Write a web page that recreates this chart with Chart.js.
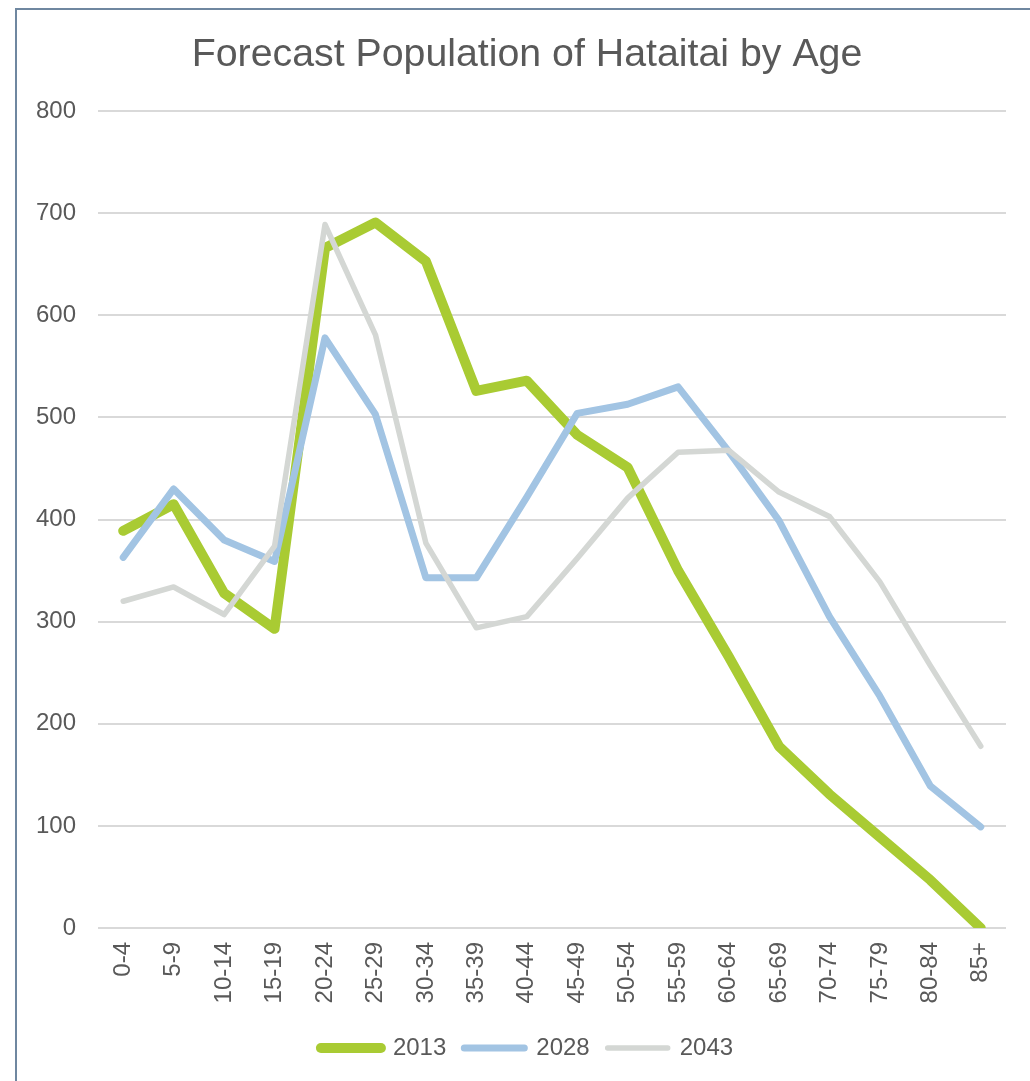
<!DOCTYPE html>
<html>
<head>
<meta charset="utf-8">
<script src="https://cdn.jsdelivr.net/npm/chart.js@4"></script>
<style>
  html, body { margin: 0; padding: 0; background: #fff; overflow: hidden; }
  #frame {
    position: absolute; left: 15px; top: 8px; width: 1100px; height: 1200px;
    border-left: 2px solid #6f87a0; border-top: 2px solid #6f87a0;
  }
  #chart { position: absolute; left: 0; top: 0; }
</style>
</head>
<body>
<div id="frame"></div>
<canvas id="chart" width="1030" height="1081"></canvas>
<script>
// age groups on the x axis
const ageGroups = ['0-4', '5-9', '10-14', '15-19', '20-24', '25-29', '30-34', '35-39', '40-44',
                   '45-49', '50-54', '55-59', '60-64', '65-69', '70-74', '75-79', '80-84', '85+'];

// population values
const pop2013 = [389, 415, 328, 293, 666, 691, 653, 526, 536, 483, 451, 350, 266, 178, 131, 89, 47, 0];
const pop2028 = [363, 430, 380, 359, 578, 503, 343, 343, 422, 504, 513, 530, 467, 399, 305, 227, 139, 99];
const pop2043 = [320, 334, 307, 374, 689, 581, 377, 294, 305, 362, 421, 466, 468, 427, 403, 339, 257, 178];

const yTicks = [0, 100, 200, 300, 400, 500, 600, 700, 800];

const textColor = '#595959';
const fontFamily = '"Liberation Sans", Arial, sans-serif';

const ctx = document.getElementById('chart');

new Chart(ctx, {
    type: 'line',
    data: {
        labels: ageGroups,
        datasets: [{
            label: '2013',
            data: pop2013,
            borderColor: '#a9cb33',
            backgroundColor: '#a9cb33',
            borderWidth: 10,
            order: 2
        }, {
            label: '2028',
            data: pop2028,
            borderColor: '#a2c4e3',
            backgroundColor: '#a2c4e3',
            borderWidth: 7,
            order: 1
        }, {
            label: '2043',
            data: pop2043,
            borderColor: '#d4d7d4',
            backgroundColor: '#d4d7d4',
            borderWidth: 5.5,
            order: 0
        }]
    },
    options: {
        responsive: false,
        animation: false,
        devicePixelRatio: 1,
        elements: {
            point: { radius: 0, hoverRadius: 0 },
            line: { tension: 0, borderCapStyle: 'round', borderJoinStyle: 'round', fill: false }
        },
        layout: {
            padding: { top: 0, left: 35, right: 11, bottom: 11 }
        },
        scales: {
            x: {
                offset: true,
                grid: { display: false, drawTicks: false },
                border: { display: false },
                ticks: {
                    color: textColor,
                    font: { family: fontFamily, size: 24 },
                    minRotation: 90,
                    maxRotation: 90,
                    padding: 14,
                    autoSkip: false
                },
                afterFit: (scale) => { scale.height = 90; }
            },
            y: {
                min: 0,
                max: 800,
                afterBuildTicks: (scale) => { scale.ticks = yTicks.map(v => ({ value: v })); },
                afterFit: (scale) => { scale.width = 63; },
                grid: { color: '#d9d9d9', lineWidth: 2, drawTicks: false },
                border: { display: false },
                ticks: {
                    color: textColor,
                    font: { family: fontFamily, size: 24 },
                    padding: 22
                }
            },
            // empty right-hand gutter so the title sits where it does in the original
            gutter: {
                type: 'linear',
                position: 'right',
                grid: { display: false, drawTicks: false },
                border: { display: false },
                ticks: { display: false },
                afterFit: (scale) => { scale.width = 13; }
            }
        },
        plugins: {
            title: {
                display: true,
                text: 'Forecast Population of Hataitai by Age',
                color: textColor,
                font: { family: fontFamily, size: 39.3, weight: 'normal' },
                padding: { top: 32, bottom: 32 }
            },
            legend: {
                position: 'bottom',
                labels: {
                    color: textColor,
                    font: { family: fontFamily, size: 24 },
                    usePointStyle: true,
                    pointStyle: 'line',
                    pointStyleWidth: 60,
                    padding: 18,
                    // keep legend in dataset order and give it round, thick strokes
                    generateLabels: (chart) => chart.data.datasets.map((ds, i) => ({
                        text: ds.label,
                        datasetIndex: i,
                        strokeStyle: ds.borderColor,
                        fillStyle: ds.borderColor,
                        lineWidth: ds.borderWidth,
                        lineCap: 'round',
                        pointStyle: 'line',
                        fontColor: textColor,
                        hidden: false
                    }))
                }
            },
            tooltip: { enabled: false }
        }
    }
});
</script>
</body>
</html>
